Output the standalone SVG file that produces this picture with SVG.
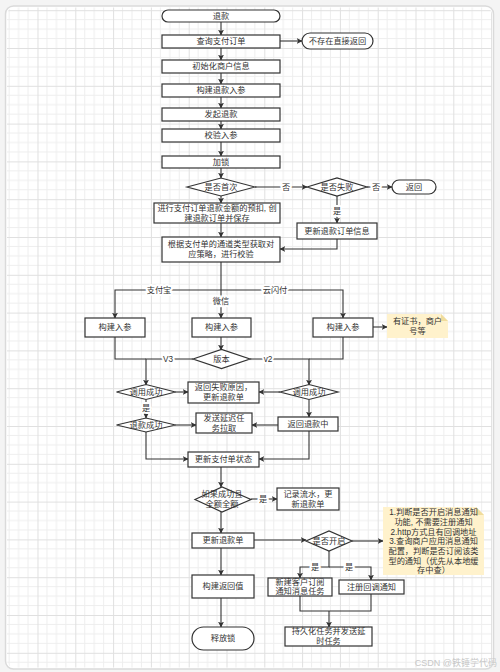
<svg xmlns="http://www.w3.org/2000/svg" width="500" height="672" viewBox="0 0 500 672">
<style>
text{font-family:"Liberation Sans","Noto Sans CJK SC",sans-serif;font-size:8.2px;fill:#333;text-anchor:middle;dominant-baseline:central}
.b{fill:#fff;stroke:#333;stroke-width:1.2}
.note{fill:#fff2cc;stroke:none}
.fold{fill:#f0dc9c;stroke:none}
.c{fill:none;stroke:#333;stroke-width:1.1}
.lbl{paint-order:stroke;stroke:#fff;stroke-width:4px;stroke-linejoin:round}
.wm{fill:#c8c8c8;font-size:9px;text-anchor:end}
</style>
<defs>
<marker id="ah" viewBox="0 0 10 10" refX="9" refY="5" markerWidth="6" markerHeight="6" orient="auto" markerUnits="userSpaceOnUse">
<path d="M0,0 L10,5 L0,10 L2.5,5 Z" fill="#333"/>
</marker>
<pattern id="grid" patternUnits="userSpaceOnUse" x="37.5" y="48" width="37.8" height="37.8">
<path d="M9.45,0V37.8M18.9,0V37.8M28.35,0V37.8M0,9.45H37.8M0,18.9H37.8M0,28.35H37.8" stroke="#eeeeee" stroke-width="1" fill="none"/>
<path d="M0.5,0V37.8M0,0.5H37.8" stroke="#e0e0e0" stroke-width="1" fill="none"/>
</pattern>
</defs>
<rect width="500" height="672" fill="#f4f4f4"/>
<rect x="5.5" y="6" width="488" height="663" rx="8" fill="#fff" stroke="#dadada" stroke-width="1.5"/>
<rect x="7" y="7.5" width="485" height="660" rx="7" fill="url(#grid)"/>

<g id="connectors">
<path class="c" marker-end="url(#ah)" d="M221,22V35"/>
<path class="c" marker-end="url(#ah)" d="M280,41H302"/>
<path class="c" marker-end="url(#ah)" d="M221,48V60"/>
<path class="c" marker-end="url(#ah)" d="M221,73V84"/>
<path class="c" marker-end="url(#ah)" d="M221,97V108"/>
<path class="c" marker-end="url(#ah)" d="M221,121V129"/>
<path class="c" marker-end="url(#ah)" d="M221,142V156"/>
<path class="c" marker-end="url(#ah)" d="M221,168V178"/>
<path class="c" marker-end="url(#ah)" d="M255,187H307"/>
<path class="c" marker-end="url(#ah)" d="M367,187H392"/>
<path class="c" marker-end="url(#ah)" d="M221,196V203"/>
<path class="c" marker-end="url(#ah)" d="M337,196V223"/>
<path class="c" marker-end="url(#ah)" d="M221,223V237"/>
<path class="c" marker-end="url(#ah)" d="M337,239V249H280"/>
<path class="c" marker-end="url(#ah)" d="M221,262V318"/>
<path class="c" marker-end="url(#ah)" d="M221,290H115V318"/>
<path class="c" marker-end="url(#ah)" d="M221,290H343V318"/>
<path class="c" marker-end="url(#ah)" d="M373,327H387"/>
<path class="c" marker-end="url(#ah)" d="M221,337V350"/>
<path class="c" d="M115,337V359H146"/>
<path class="c" marker-end="url(#ah)" d="M193,359H146V385"/>
<path class="c" d="M343,336V359H309"/>
<path class="c" marker-end="url(#ah)" d="M250,359H309V385"/>
<path class="c" marker-end="url(#ah)" d="M175,392H188"/>
<path class="c" marker-end="url(#ah)" d="M280,392H259"/>
<path class="c" marker-end="url(#ah)" d="M146,400V418"/>
<path class="c" marker-end="url(#ah)" d="M309,400V417"/>
<path class="c" marker-end="url(#ah)" d="M278,425H252"/>
<path class="c" marker-end="url(#ah)" d="M175,425H196"/>
<path class="c" marker-end="url(#ah)" d="M146,432V459H188"/>
<path class="c" marker-end="url(#ah)" d="M309,431V459H259"/>
<path class="c" marker-end="url(#ah)" d="M221,467V487"/>
<path class="c" marker-end="url(#ah)" d="M251,499H277"/>
<path class="c" marker-end="url(#ah)" d="M221,512V533"/>
<path class="c" marker-end="url(#ah)" d="M254,540H306"/>
<path class="c" marker-end="url(#ah)" d="M352,541H383"/>
<path class="c" marker-end="url(#ah)" d="M329,551V567H300V578"/>
<path class="c" marker-end="url(#ah)" d="M329,567H371V580"/>
<path class="c" d="M300,596V611H371V594"/>
<path class="c" marker-end="url(#ah)" d="M329,611V627"/>
<path class="c" marker-end="url(#ah)" d="M221,548V575"/>
<path class="c" marker-end="url(#ah)" d="M221,598V627"/>
<text class="lbl" x="286" y="187">否</text>
<text class="lbl" x="376" y="187">否</text>
<text class="lbl" x="337" y="211">是</text>
<text class="lbl" x="221" y="301">微信</text>
<text class="lbl" x="159" y="290">支付宝</text>
<text class="lbl" x="275" y="290">云闪付</text>
<text class="lbl" x="168" y="359">V3</text>
<text class="lbl" x="268" y="359">v2</text>
<text class="lbl" x="146" y="408">是</text>
<text class="lbl" x="263" y="499">是</text>
<text class="lbl" x="315" y="567">是</text>
<text class="lbl" x="349" y="567">是</text>
</g>

<g id="n_start"><rect class="b" x="162" y="10" width="118" height="12" rx="6"/><text x="221" y="16">退款</text></g>
<g id="n_query"><rect class="b" x="162" y="35" width="118" height="13"/><text x="221" y="41.5">查询支付订单</text></g>
<g id="n_notexist"><rect class="b" x="302" y="33" width="71" height="16" rx="8"/><text x="337.5" y="41">不存在直接返回</text></g>
<g id="n_init"><rect class="b" x="162" y="60" width="118" height="13"/><text x="221" y="66.5">初始化商户信息</text></g>
<g id="n_build"><rect class="b" x="162" y="84" width="118" height="13"/><text x="221" y="90.5">构建退款入参</text></g>
<g id="n_launch"><rect class="b" x="162" y="108" width="118" height="13"/><text x="221" y="114.5">发起退款</text></g>
<g id="n_check"><rect class="b" x="162" y="129" width="118" height="13"/><text x="221" y="135.5">校验入参</text></g>
<g id="n_lock"><rect class="b" x="162" y="156" width="118" height="12"/><text x="221" y="162">加锁</text></g>
<g id="d_first"><polygon class="b" points="187,187 221,178 255,187 221,196"/><text x="221" y="187">是否首次</text></g>
<g id="d_fail"><polygon class="b" points="307,187 337,178 367,187 337,196"/><text x="337" y="187">是否失败</text></g>
<g id="n_return"><rect class="b" x="392" y="180" width="44" height="14" rx="7"/><text x="414" y="187">返回</text></g>
<g id="n_prededuct"><rect class="b" x="154" y="203" width="126" height="20"/><text x="217" y="208.5">进行支付订单退款金额的预扣, 创</text><text x="217" y="218">建退款订单并保存</text></g>
<g id="n_update_order"><rect class="b" x="297" y="223" width="80" height="16"/><text x="337" y="231">更新退款订单信息</text></g>
<g id="n_strategy"><rect class="b" x="162" y="237" width="118" height="25"/><text x="221" y="244.5">根据支付单的通道类型获取对</text><text x="221" y="254.5">应策略，进行校验</text></g>
<g id="n_alipay"><rect class="b" x="85" y="318" width="60" height="19"/><text x="115" y="327.5">构建入参</text></g>
<g id="n_wechat"><rect class="b" x="192" y="318" width="59" height="19"/><text x="221.5" y="327.5">构建入参</text></g>
<g id="n_unionpay"><rect class="b" x="313" y="318" width="60" height="19"/><text x="343" y="327.5">构建入参</text></g>
<g id="note_cert"><path class="note" d="M387,314H441L448,321V338H387Z"/><path class="fold" d="M441,314L448,321H441Z"/><text x="417.5" y="321.5">有证书，商户</text><text x="417.5" y="331">号等</text></g>
<g id="d_version"><polygon class="b" points="193,359 221.5,349.5 250,359 221.5,368.5"/><text x="221.5" y="359">版本</text></g>
<g id="d_call_l"><polygon class="b" points="116.5,392 146,384.5 175.5,392 146,399.5"/><text x="146" y="392">调用成功</text></g>
<g id="n_fail"><rect class="b" x="188" y="382" width="71" height="21"/><text x="223.5" y="387.5">返回失败原因，</text><text x="223.5" y="397">更新退款单</text></g>
<g id="d_call_r"><polygon class="b" points="280,392 309,384.5 338,392 309,399.5"/><text x="309" y="392">调用成功</text></g>
<g id="d_refund_ok"><polygon class="b" points="116.5,425 146,418 175.5,425 146,432"/><text x="146" y="425">退款成功</text></g>
<g id="n_delay"><rect class="b" x="196" y="413" width="56" height="20"/><text x="224" y="418.5">发送延迟任</text><text x="224" y="428">务拉取</text></g>
<g id="n_refunding"><rect class="b" x="278" y="417" width="60" height="14"/><text x="308" y="424">返回退款中</text></g>
<g id="n_update_pay"><rect class="b" x="188" y="452" width="71" height="15"/><text x="223.5" y="459.5">更新支付单状态</text></g>
<g id="d_full"><polygon class="b" points="195,499.5 222,487 251,499.5 222,512"/><text x="222" y="494.5">如果成功且</text><text x="222" y="504">全额全额</text></g>
<g id="n_record"><rect class="b" x="277" y="488" width="62" height="22"/><text x="308" y="494">记录流水，更</text><text x="308" y="504">新退款单</text></g>
<g id="n_update_refund"><rect class="b" x="192" y="533" width="62" height="15"/><text x="223" y="540.5">更新退款单</text></g>
<g id="d_enable"><polygon class="b" points="306,541 329,531 352,541 329,551"/><text x="329" y="541">是否开启</text></g>
<g id="note_notify"><path class="note" d="M383,507H476L484,515V575H383Z"/><path class="fold" d="M476,507L484,515H476Z"/>
<text x="433.5" y="512.5">1.判断是否开启消息通知</text>
<text x="433.5" y="522.3">功能, 不需要注册通知</text>
<text x="433.5" y="532">2.http方式且有回调地址</text>
<text x="433.5" y="541.7">3.查询商户应用消息通知</text>
<text x="433.5" y="551.4">配置，判断是否订阅该类</text>
<text x="433.5" y="561.1">型的通知（优先从本地缓</text>
<text x="433.5" y="570.8">存中查）</text></g>
<g id="n_subscribe"><rect class="b" x="268" y="578" width="64" height="18"/><text x="300" y="582.5">新建客户订阅</text><text x="300" y="591.5">通知消息任务</text></g>
<g id="n_register"><rect class="b" x="339" y="580" width="65" height="14"/><text x="371.5" y="587">注册回调通知</text></g>
<g id="n_persist"><rect class="b" x="285" y="627" width="87" height="19"/><text x="328.5" y="631.5">持久化任务并发送延</text><text x="328.5" y="641">时任务</text></g>
<g id="n_build_ret"><rect class="b" x="192" y="575" width="62" height="23"/><text x="223" y="586.5">构建返回值</text></g>
<g id="n_release"><rect class="b" x="192" y="627" width="62" height="23" rx="11.5"/><text x="223" y="638.5">释放锁</text></g>
<text class="wm" x="497" y="663">CSDN @铁锤学代码</text>
</svg>
